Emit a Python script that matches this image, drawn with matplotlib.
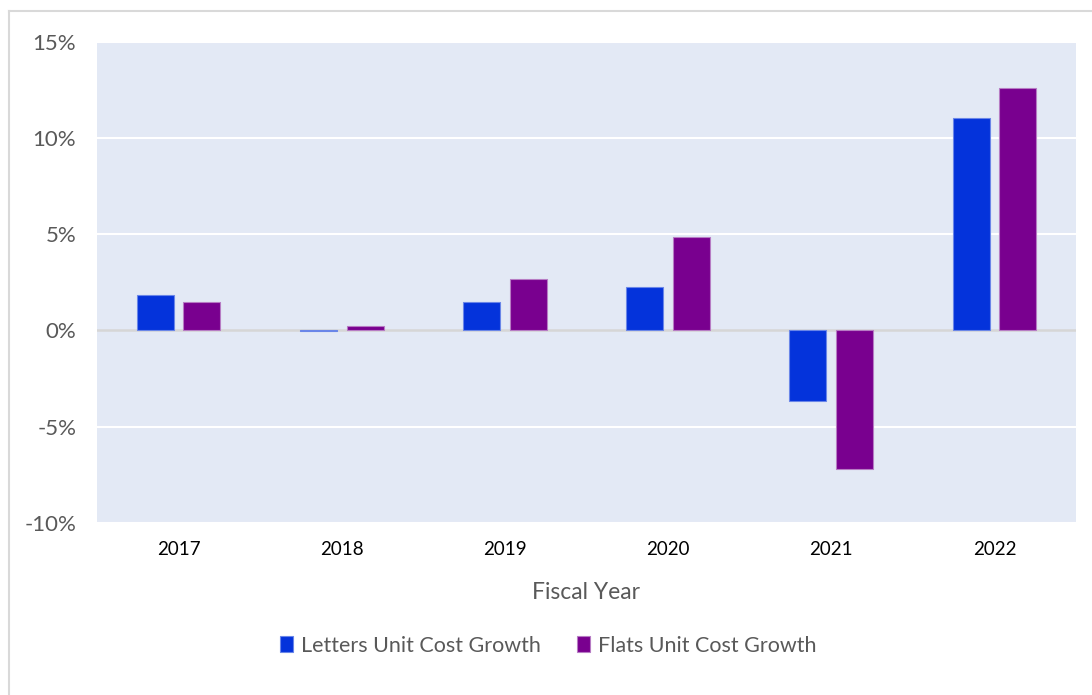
import matplotlib
matplotlib.use("Agg")
import matplotlib.pyplot as plt
from matplotlib.lines import Line2D
from matplotlib.ticker import FuncFormatter
import numpy as np

plt.rcParams['font.family'] = ['Lato', 'DejaVu Sans']

years = ["2017", "2018", "2019", "2020", "2021", "2022"]
letters_growth = [1.86, -0.03, 1.46, 2.24, -3.67, 11.02]
flats_growth = [1.50, 0.24, 2.65, 4.88, -7.18, 12.60]
series_names = ["Letters Unit Cost Growth", "Flats Unit Cost Growth"]
y_ticks = [-10, -5, 0, 5, 10, 15]

letters_color = "#0433DB"
flats_color = "#79008F"
bg_color = "#E3E9F5"
text_grey = "#595959"

fig = plt.figure(figsize=(10.92, 6.95), dpi=100)
ax = fig.add_axes([0.0888, 0.2475, 0.8965, 0.6925])
ax.set_facecolor(bg_color)

x = np.arange(len(years))
width = 0.227
offset = 0.143
ax.bar(x - offset, letters_growth, width, color=letters_color,
       edgecolor="#6A86E8", linewidth=0.8, zorder=3, label=series_names[0])
ax.bar(x + offset, flats_growth, width, color=flats_color,
       edgecolor="#B77CC4", linewidth=0.8, zorder=3, label=series_names[1])

ax.set_xlim(-0.5, len(years) - 0.5)
ax.set_ylim(-10, 15)
ax.set_yticks(y_ticks)
ax.yaxis.set_major_formatter(FuncFormatter(lambda v, p: f"{v:.0f}%"))
ax.set_xticks(x)
ax.set_xticklabels(years)

for v in y_ticks:
    if v != 0:
        ax.axhline(v, color="white", linewidth=1.5, zorder=1)
ax.axhline(0, color="#D6D6D6", linewidth=1.8, zorder=2)

for s in ax.spines.values():
    s.set_visible(False)
ax.tick_params(axis="both", length=0)
ax.tick_params(axis="y", labelsize=16, labelcolor=text_grey, pad=15)
ax.tick_params(axis="x", labelsize=13.5, labelcolor="black", pad=13)

ax.set_xlabel("Fiscal Year", fontsize=16.5, color=text_grey, labelpad=17)

leg = fig.legend(loc="center", bbox_to_anchor=(0.502, 0.071), ncol=2,
                 frameon=False, fontsize=15.5, handlelength=0.6,
                 handleheight=0.8, handletextpad=0.35, columnspacing=1.7,
                 labelcolor=text_grey)

# outer frame lines on the left and top
fig.add_artist(Line2D([9 / 1092, 9 / 1092], [0, 1 - 11 / 695],
                      transform=fig.transFigure, color="#D9D9D9", linewidth=1.5))
fig.add_artist(Line2D([9 / 1092, 1], [1 - 11 / 695, 1 - 11 / 695],
                      transform=fig.transFigure, color="#D9D9D9", linewidth=1.5))

fig.savefig("out.png", dpi=100)
